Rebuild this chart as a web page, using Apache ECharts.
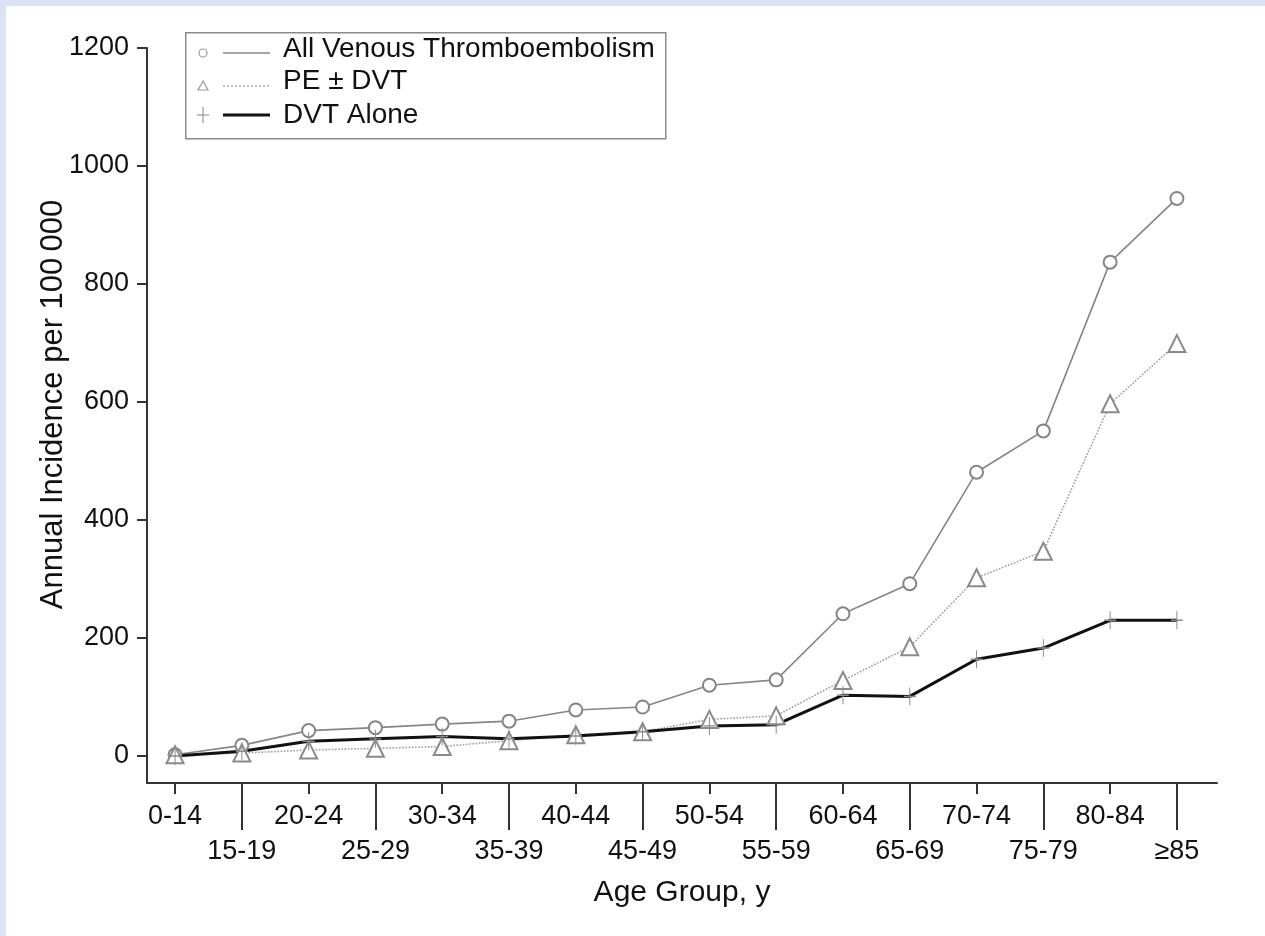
<!DOCTYPE html>
<html>
<head>
<meta charset="utf-8">
<script src="https://cdn.jsdelivr.net/npm/echarts@6/dist/echarts.min.js"></script>
<style>
  html, body { margin: 0; padding: 0; background: #dbe4f4; }
  #chart { position: absolute; left: 6px; top: 6px; width: 1259px; height: 930px; background: #ffffff; }
</style>
</head>
<body>
<div id="chart"></div>
<script>
// ---- data ----
const categories = ['0-14','15-19','20-24','25-29','30-34','35-39','40-44','45-49','50-54','55-59','60-64','65-69','70-74','75-79','80-84','\u226585'];
const allVTE = [2, 18, 43, 48, 54, 59, 78, 83, 120, 129, 241, 292, 481, 551, 837, 945];
const peDVT  = [2, 5, 10, 13, 16, 26, 36, 41, 62, 68, 128, 185, 302, 347, 597, 699];
const dvtAlone = [0, 8, 25, 29, 33, 29, 34, 41, 51, 53, 103, 101, 164, 183, 230, 230];
const yTicks = [0, 200, 400, 600, 800, 1000, 1200];
const seriesNames = ['All Venous Thromboembolism', 'PE \u00b1 DVT', 'DVT Alone'];

const FONT = '"Liberation Sans", Arial, sans-serif';
const TEXT = '#111';
const evenIdx = categories.map((c, i) => i).filter(i => i % 2 === 0);
const oddIdx = categories.map((c, i) => i).filter(i => i % 2 === 1);
const toPairs = arr => arr.map((v, i) => [i, v]);

const chart = echarts.init(document.getElementById('chart'));
const xCommon = {
  type: 'value', min: -0.42, max: 15.6, position: 'bottom', gridIndex: 0,
  splitLine: { show: false }
};
const option = {
  animation: false,
  backgroundColor: '#ffffff',
  grid: { left: 141, top: 42, right: 48, bottom: 153 },
  xAxis: [
    Object.assign({}, xCommon, {
      name: 'Age Group, y', nameLocation: 'middle', nameGap: 95, nameMoveOverlap: false,
      nameTextStyle: { fontFamily: FONT, fontSize: 30, color: TEXT },
      axisLine: { show: true, onZero: false, lineStyle: { color: '#333', width: 2 } },
      axisTick: { show: true, length: 11, customValues: evenIdx, lineStyle: { color: '#333', width: 2 } },
      axisLabel: { show: true, customValues: evenIdx, margin: 20, fontFamily: FONT, fontSize: 27, color: TEXT,
        formatter: v => categories[Math.round(v)] }
    }),
    Object.assign({}, xCommon, {
      axisLine: { show: false, onZero: false },
      axisTick: { show: true, length: 47, customValues: oddIdx, lineStyle: { color: '#333', width: 2 } },
      axisLabel: { show: true, customValues: oddIdx, margin: 55, fontFamily: FONT, fontSize: 27, color: TEXT,
        formatter: v => categories[Math.round(v)] }
    })
  ],
  yAxis: {
    type: 'value', min: -45.8, max: 1200,
    name: 'Annual Incidence per 100\u2009000', nameLocation: 'middle', nameGap: 78, nameMoveOverlap: false,
    nameTextStyle: { fontFamily: FONT, fontSize: 31, color: TEXT, padding: [0, 0, 0, 22] },
    splitLine: { show: false },
    axisLine: { show: true, onZero: false, lineStyle: { color: '#333', width: 2 } },
    axisTick: { show: true, length: 10, customValues: yTicks, lineStyle: { color: '#333', width: 2 } },
    axisLabel: { show: true, customValues: yTicks, margin: 18, fontFamily: FONT, fontSize: 27, color: TEXT,
      formatter: v => String(v) }
  },
  series: [
    {
      name: seriesNames[0], type: 'line', xAxisIndex: 0, data: toPairs(allVTE),
      symbol: 'emptyCircle', symbolSize: 13,
      lineStyle: { color: '#858585', width: 1.6 },
      itemStyle: { color: '#858585', borderWidth: 1.5 }
    },
    {
      name: seriesNames[1], type: 'line', xAxisIndex: 0, data: toPairs(peDVT),
      symbol: 'emptyTriangle', symbolSize: 17,
      lineStyle: { color: '#9c9c9c', width: 1.6, type: 'dotted' },
      itemStyle: { color: '#8a8a8a', borderWidth: 1.5 }
    },
    {
      name: seriesNames[2], type: 'line', xAxisIndex: 0, data: toPairs(dvtAlone),
      symbol: 'path://M5,0 L5,10 M0,5 L10,5', symbolSize: [12, 18], symbolKeepAspect: false,
      lineStyle: { color: '#111', width: 3 },
      itemStyle: { color: 'rgba(0,0,0,0)', borderColor: '#8a8a8a', borderWidth: 1.2 },
      z: 3
    }
  ],
  graphic: [
    { type: 'rect', left: 179, top: 26, shape: { width: 480, height: 106 },
      style: { fill: '#fff', stroke: '#8a8a8a', lineWidth: 1.5 }, z: 10 },
    // row 1
    { type: 'circle', shape: { cx: 197, cy: 47, r: 4 }, style: { fill: '#fff', stroke: '#999', lineWidth: 1.2 }, z: 11 },
    { type: 'line', shape: { x1: 217, y1: 47, x2: 264, y2: 47 }, style: { stroke: '#888', lineWidth: 1.5 }, z: 11 },
    { type: 'text', left: 277, top: 29, style: { text: seriesNames[0], font: '28px ' + FONT, fill: TEXT }, z: 11 },
    // row 2
    { type: 'polygon', shape: { points: [[197, 75], [192, 84], [202, 84]] }, style: { fill: '#fff', stroke: '#999', lineWidth: 1.2 }, z: 11 },
    { type: 'line', shape: { x1: 217, y1: 80, x2: 264, y2: 80 }, style: { stroke: '#aaa', lineWidth: 1.3, lineDash: [2, 2] }, z: 11 },
    { type: 'text', left: 277, top: 61, style: { text: seriesNames[1], font: '28px ' + FONT, fill: TEXT }, z: 11 },
    // row 3
    { type: 'line', shape: { x1: 197, y1: 101, x2: 197, y2: 117 }, style: { stroke: '#999', lineWidth: 1.2 }, z: 11 },
    { type: 'line', shape: { x1: 191, y1: 109, x2: 203, y2: 109 }, style: { stroke: '#999', lineWidth: 1.2 }, z: 11 },
    { type: 'line', shape: { x1: 217, y1: 109, x2: 264, y2: 109 }, style: { stroke: '#111', lineWidth: 3 }, z: 11 },
    { type: 'text', left: 277, top: 95, style: { text: seriesNames[2], font: '28px ' + FONT, fill: TEXT }, z: 11 }
  ]
};
chart.setOption(option);
</script>
</body>
</html>
